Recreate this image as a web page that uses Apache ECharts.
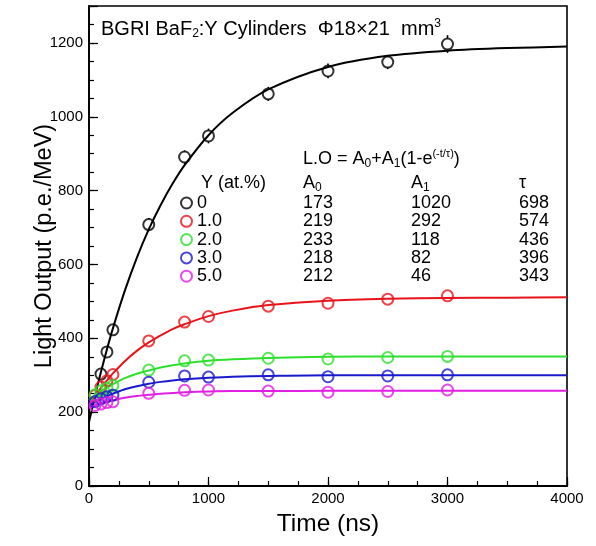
<!DOCTYPE html>
<html>
<head>
<meta charset="utf-8">
<script src="https://cdn.jsdelivr.net/npm/echarts@6/dist/echarts.min.js"></script>
<style>html,body{margin:0;padding:0;background:#fff;}#c{width:596px;height:546px;}</style>
</head>
<body>
<div id="c"></div>
<script>
// ---- data ----
const yTickLabels = [0, 200, 400, 600, 800, 1000, 1200];
const xTickLabels = [0, 1000, 2000, 3000, 4000];
const seriesNames = ['0', '1.0', '2.0', '3.0', '5.0'];
const seriesColors = ['#000000', '#e8141a', '#2ee02e', '#1a1acc', '#e21ee2'];
// measured points
const tBlack = [100, 150, 200, 500, 800, 1000, 1500, 2000, 2500, 3000];
const lo0 = [303, 363, 423, 708, 891, 948, 1062, 1124, 1148, 1197];
const err0 = [10, 12, 14, 18, 18, 20, 19, 20, 19, 24];
const tDoped = [50, 100, 150, 200, 500, 800, 1000, 1500, 2000, 2500, 3000];
const lo1 = [245, 268, 285, 302, 393, 444, 459, 487, 495, 506, 515];
const lo2 = [247, 258, 265, 272, 314, 339, 341, 346, 344, 348, 351];
const lo3 = [228, 236, 242, 246, 281, 298, 295, 301, 296, 298, 301];
const lo5 = [218, 222, 226, 228, 251, 259, 260, 257, 254, 256, 260];
// fit curves
const fitT = [0, 50, 100, 150, 200, 300, 400, 500, 600, 700, 800, 1000, 1200, 1500, 2000, 2500, 3000, 3500, 4000];
const fit0 = [173, 243, 309, 370, 427, 529, 618, 695, 761, 819, 869, 950, 1010, 1074, 1135, 1165, 1179, 1186, 1190];
const fit1 = [219, 243, 266, 286, 305, 338, 366, 389, 408, 425, 438, 460, 475, 490, 502, 507, 509, 510, 511];
const fit2 = [233, 246, 257, 267, 276, 292, 304, 313, 321, 327, 332, 339, 343, 347, 350, 351, 351, 351, 351];
const fit3 = [218, 228, 236, 244, 250, 262, 270, 277, 282, 286, 289, 293, 296, 298, 300, 300, 300, 300, 300];
const fit5 = [212, 218, 224, 228, 232, 239, 244, 247, 250, 252, 254, 256, 257, 257, 258, 258, 258, 258, 258];
// fit parameter table
const tableA0 = ['173', '219', '233', '218', '212'];
const tableA1 = ['1020', '292', '118', '82', '46'];
const tableTau = ['698', '574', '436', '396', '343'];

// ---- build ----
const FONT = '"Liberation Sans", Arial, Helvetica, sans-serif';
const pointSets = [
  [tBlack, lo0], [tDoped, lo1], [tDoped, lo2], [tDoped, lo3], [tDoped, lo5]
];
const fitSets = [fit0, fit1, fit2, fit3, fit5];

const chart = echarts.init(document.getElementById('c'), null, {renderer: 'canvas'});
const series = [];
fitSets.forEach((f, i) => {
  series.push({
    type: 'line', name: 'fit' + i, data: fitT.map((t, k) => [t, f[k]]),
    showSymbol: false, symbol: 'none', smooth: 0.3,
    lineStyle: {color: seriesColors[i], width: 2}, z: 2, silent: true
  });
});
series.push({
  type: 'custom', name: 'err', z: 3, silent: true,
  data: tBlack.map((t, k) => [t, lo0[k], err0[k]]),
  encode: {x: 0, y: 1},
  renderItem: function (params, api) {
    const c = api.coord([api.value(0), api.value(1)]);
    const hi = api.coord([api.value(0), api.value(1) + api.value(2)]);
    const lo = api.coord([api.value(0), api.value(1) - api.value(2)]);
    const r = 5.5;
    const kids = [];
    if (c[1] - hi[1] > r) kids.push({type: 'line', shape: {x1: c[0], y1: c[1] - r, x2: hi[0], y2: hi[1]}, style: {stroke: '#000', lineWidth: 1.6}});
    if (lo[1] - c[1] > r) kids.push({type: 'line', shape: {x1: c[0], y1: c[1] + r, x2: lo[0], y2: lo[1]}, style: {stroke: '#000', lineWidth: 1.6}});
    return {type: 'group', children: kids};
  }
});
pointSets.forEach((p, i) => {
  series.push({
    type: 'scatter', name: seriesNames[i], data: p[0].map((t, k) => [t, p[1][k]]),
    symbol: 'circle', symbolSize: 11,
    itemStyle: {color: 'rgba(255,255,255,0)', borderColor: seriesColors[i], borderWidth: 2},
    z: 4, silent: true
  });
});

const graphics = [];
function txt(x, y, text, size, rich) {
  graphics.push({
    type: 'text', x: x, y: y, silent: true,
    style: {text: text, fontSize: size, fontFamily: FONT, fill: '#000', verticalAlign: 'middle', align: 'left', rich: rich || {}}
  });
}
const sub = {fontSize: 12, fontFamily: FONT, padding: [10, 0, 0, 0]};
const sup = {fontSize: 12, fontFamily: FONT, padding: [0, 0, 11, 0]};
txt(101, 29, 'BGRI BaF{sub|2}:Y Cylinders  Φ18×21  mm{sup|3}', 20, {sub: sub, sup: sup});
txt(303, 159, 'L.O = A{sub|0}+A{sub|1}(1-e{sup|(-t/τ)})', 18, {sub: sub, sup: {fontSize: 11, fontFamily: FONT, padding: [0, 0, 11, 0]}});
txt(201, 183, 'Y (at.%)', 18);
txt(303, 183, 'A{sub|0}', 18, {sub: sub});
txt(411, 183, 'A{sub|1}', 18, {sub: sub});
txt(519, 183, 'τ', 18);
for (let i = 0; i < 5; i++) {
  const y = 203 + i * 18.3;
  txt(303, y, tableA0[i], 18);
  txt(411, y, tableA1[i], 18);
  txt(519, y, tableTau[i], 18);
}

const axisLineStyle = {color: '#000', width: 1.8};
chart.setOption({
  animation: false,
  backgroundColor: '#fff',
  textStyle: {fontFamily: FONT},
  grid: {left: 89, right: 29, top: 6, bottom: 60, show: true, borderColor: '#000', borderWidth: 1.6, backgroundColor: 'rgba(0,0,0,0)'},
  legend: {
    data: seriesNames, orient: 'vertical', left: 180, top: 194, padding: 0,
    itemWidth: 11, itemHeight: 11, itemGap: 0.3, icon: 'circle', selectedMode: false,
    itemStyle: {borderWidth: 2},
    textStyle: {fontSize: 18, color: '#000', lineHeight: 18, fontFamily: FONT}
  },
  xAxis: [
    {type: 'value', min: 0, max: 4000, interval: 250, position: 'bottom',
      axisLine: {show: true, lineStyle: axisLineStyle}, axisTick: {inside: true, length: 5, lineStyle: {color: '#000', width: 1.2}},
      axisLabel: {show: false}, splitLine: {show: false}},
    {type: 'value', min: 0, max: 4000, interval: 1000, position: 'bottom',
      axisLine: {show: false}, axisTick: {inside: true, length: 9, lineStyle: {color: '#000', width: 1.2}},
      axisLabel: {color: '#000', fontSize: 15, margin: 5, fontFamily: FONT,
        formatter: v => xTickLabels.indexOf(v) >= 0 ? String(v) : ''},
      splitLine: {show: false},
      name: 'Time (ns)', nameLocation: 'middle', nameGap: 26, nameMoveOverlap: false,
      nameTextStyle: {fontSize: 24.5, color: '#000', fontFamily: FONT}}
  ],
  yAxis: [
    {type: 'value', min: 0, max: 1300, interval: 50, position: 'left',
      axisLine: {show: true, lineStyle: axisLineStyle}, axisTick: {inside: true, length: 5, lineStyle: {color: '#000', width: 1.2}},
      axisLabel: {show: false}, splitLine: {show: false}},
    {type: 'value', min: 0, max: 1300, interval: 200, position: 'left',
      axisLine: {show: false}, axisTick: {inside: true, length: 9, lineStyle: {color: '#000', width: 1.2}},
      axisLabel: {color: '#000', fontSize: 15, margin: 6, fontFamily: FONT,
        formatter: v => yTickLabels.indexOf(v) >= 0 ? String(v) : ''},
      splitLine: {show: false},
      name: 'Light Output (p.e./MeV)', nameLocation: 'middle', nameGap: 32, nameRotate: 90, nameMoveOverlap: false,
      nameTextStyle: {fontSize: 23.5, color: '#000', fontFamily: FONT}}
  ],
  graphic: graphics,
  series: series
});
</script>
</body>
</html>
